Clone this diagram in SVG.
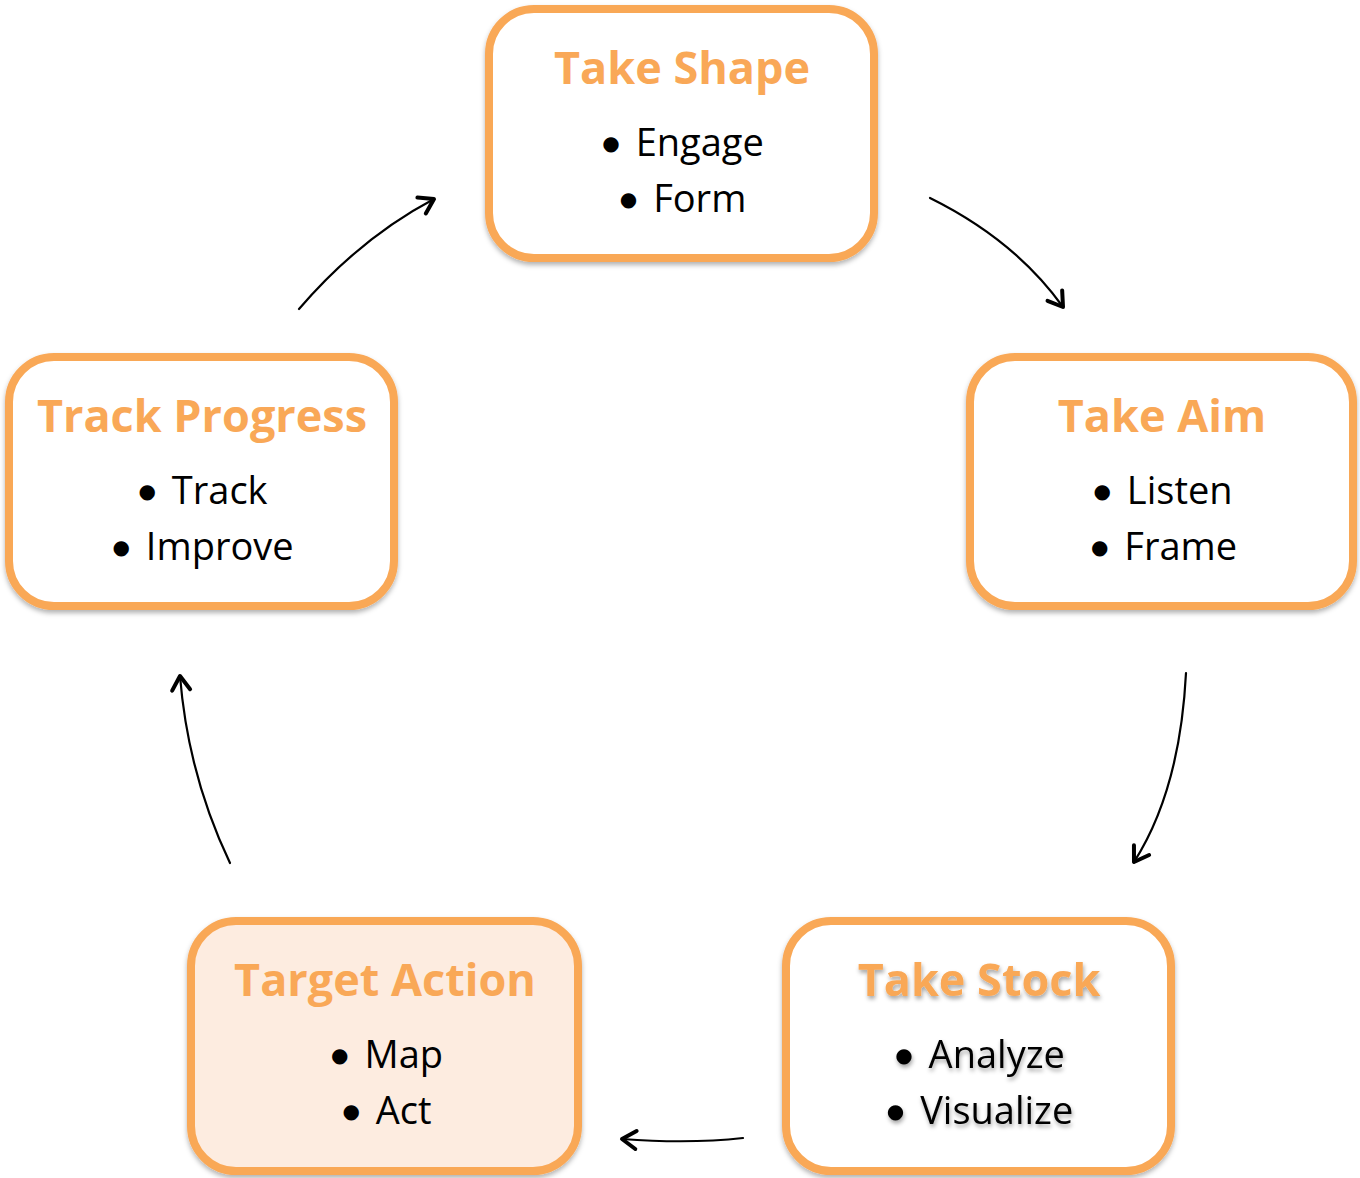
<svg xmlns="http://www.w3.org/2000/svg" width="1360" height="1178" viewBox="0 0 1360 1178">
<style>
.box{fill:#FFFFFF;stroke:#F9A857;stroke-width:8;filter:url(#shadow)}
.box.hl{fill:#FDECE0}
.title{font-family:"Open Sans","Liberation Sans",sans-serif;font-weight:bold;font-size:45px;fill:#F9A857;text-anchor:middle}
.item{font-family:"Open Sans","Liberation Sans",sans-serif;font-size:38px;fill:#000000;text-anchor:middle}
.b{font-family:"DejaVu Sans",sans-serif;font-size:20px}
.conn{fill:none;stroke:#000000;stroke-width:2.2;stroke-linecap:round;marker-end:url(#arrow)}
.ts{filter:url(#tshadow)}
</style>
<defs>
<filter id="shadow" x="-10%" y="-10%" width="120%" height="125%">
<feDropShadow dx="0" dy="3" stdDeviation="2.5" flood-color="#000000" flood-opacity="0.3"/>
</filter>
<filter id="tshadow" x="-10%" y="-20%" width="120%" height="150%">
<feDropShadow dx="1" dy="3" stdDeviation="2" flood-color="#000000" flood-opacity="0.35"/>
</filter>
<marker id="arrow" markerUnits="userSpaceOnUse" viewBox="-20 -15 25 30" refX="0" refY="0" markerWidth="25" markerHeight="30" orient="auto">
<path d="M-14,-9 L0,0 L-14,9" fill="none" stroke="#000000" stroke-width="4" stroke-linecap="round" stroke-linejoin="round"/>
</marker>
</defs>
<g id="connectors">
<path class="conn" d="M930,198 Q1015,240 1063,307"/>
<path class="conn" d="M1186,673 Q1180,790 1134,862"/>
<path class="conn" d="M743,1138 Q690,1144 622,1139"/>
<path class="conn" d="M230,863 Q188,775 180,676"/>
<path class="conn" d="M299,309 Q360,238 434,199"/>
</g>
<g id="take-shape">
<rect class="box" x="489" y="9" width="385" height="249" rx="45"/>
<text class="title" x="682" y="84">Take Shape</text>
<text class="item" x="683" y="156"><tspan class="b" dy="-6">●</tspan><tspan dx="16" dy="6">Engage</tspan></text>
<text class="item" x="683" y="212"><tspan class="b" dy="-6">●</tspan><tspan dx="16" dy="6">Form</tspan></text>
</g>
<g id="take-aim">
<rect class="box" x="970" y="357" width="383" height="249" rx="45"/>
<text class="title" x="1162" y="432">Take Aim</text>
<text class="item" x="1163" y="504"><tspan class="b" dy="-6">●</tspan><tspan dx="16" dy="6">Listen</tspan></text>
<text class="item" x="1164" y="560"><tspan class="b" dy="-6">●</tspan><tspan dx="16" dy="6">Frame</tspan></text>
</g>
<g id="take-stock">
<rect class="box" x="786" y="921" width="385" height="250" rx="45"/>
<g class="ts">
<text class="title" x="979" y="996">Take Stock</text>
<text class="item" x="980" y="1068"><tspan class="b" dy="-6">●</tspan><tspan dx="16" dy="6">Analyze</tspan></text>
<text class="item" x="980" y="1124"><tspan class="b" dy="-6">●</tspan><tspan dx="16" dy="6">Visualize</tspan></text>
</g>
</g>
<g id="target-action">
<rect class="box hl" x="191" y="921" width="387" height="250" rx="45"/>
<text class="title" x="385" y="996">Target Action</text>
<text class="item" x="387" y="1068"><tspan class="b" dy="-6">●</tspan><tspan dx="16" dy="6">Map</tspan></text>
<text class="item" x="387" y="1124"><tspan class="b" dy="-6">●</tspan><tspan dx="16" dy="6">Act</tspan></text>
</g>
<g id="track-progress">
<rect class="box" x="9" y="357" width="385" height="249" rx="45"/>
<text class="title" x="202" y="432">Track Progress</text>
<text class="item" x="203" y="504"><tspan class="b" dy="-6">●</tspan><tspan dx="16" dy="6">Track</tspan></text>
<text class="item" x="203" y="560"><tspan class="b" dy="-6">●</tspan><tspan dx="16" dy="6">Improve</tspan></text>
</g>
</svg>
